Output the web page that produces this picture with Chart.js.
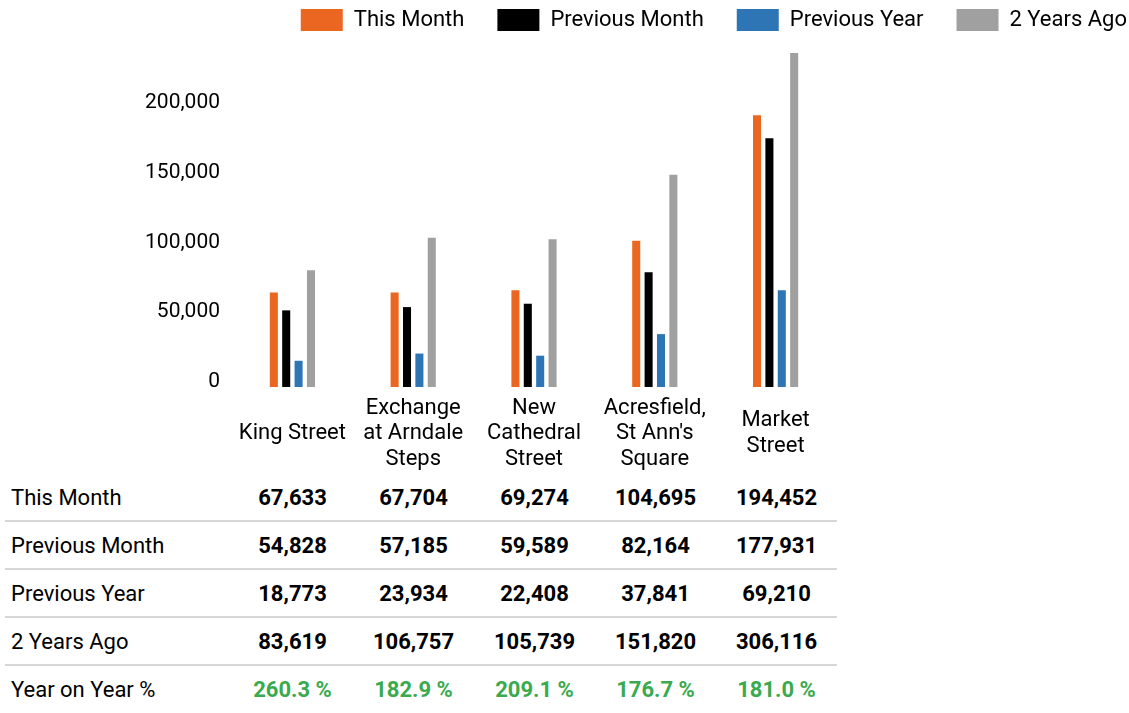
<!DOCTYPE html>
<html>
<head>
<meta charset="utf-8">
<script src="https://cdn.jsdelivr.net/npm/chart.js@4.4.1/dist/chart.umd.min.js"></script>
<style>
    body { margin: 0; background: #fff; font-family: Roboto, sans-serif; }
    #wrap { position: relative; width: 1129px; height: 474px; }
    table { border-collapse: collapse; margin-left: 5px; font-size: 22px; color: #000; }
    td { height: 46px; padding: 0; text-align: center; font-weight: bold; width: 121px; }
    td.nome { text-align: left; font-weight: normal; width: 221px; padding-left: 6px; }
    tr { border-bottom: 2px solid #d6d6d6; }
    tr:last-child { border-bottom: none; }
    tr.yoy td.v { color: #3aaa4e; }
</style>
</head>
<body>
<div id="wrap"><canvas id="grafico"></canvas></div>
<table id="tabela"></table>
<script>
const categorias = ['King Street', ['Exchange', 'at Arndale', 'Steps'], ['New', 'Cathedral', 'Street'], ['Acresfield,', "St Ann's", 'Square'], ['Market', 'Street']];
const nomesSeries = ['This Month', 'Previous Month', 'Previous Year', '2 Years Ago'];
const thisMonth = [67633, 67704, 69274, 104695, 194452];
const previousMonth = [54828, 57185, 59589, 82164, 177931];
const previousYear = [18773, 23934, 22408, 37841, 69210];
const twoYearsAgo = [83619, 106757, 105739, 151820, 306116];
const yearOnYear = [260.3, 182.9, 209.1, 176.7, 181.0];
const yTicks = [0, 50000, 100000, 150000, 200000];

const cores = ['#eb6620', '#000000', '#2e75b6', '#a0a0a0'];
const valores = [thisMonth, previousMonth, previousYear, twoYearsAgo];

// tabela de dados embaixo do grafico
const tabela = document.getElementById('tabela');
valores.forEach((serie, i) => {
    const tr = document.createElement('tr');
    tr.innerHTML = `<td class="nome">${nomesSeries[i]}</td>` +
        serie.map(v => `<td>${v.toLocaleString('en-US')}</td>`).join('');
    tabela.appendChild(tr);
});
const trYoy = document.createElement('tr');
trYoy.className = 'yoy';
trYoy.innerHTML = '<td class="nome">Year on Year %</td>' +
    yearOnYear.map(v => `<td class="v">${v.toFixed(1)} %</td>`).join('');
tabela.appendChild(trYoy);

const ctx = document.getElementById('grafico').getContext('2d');
window.grafico = new Chart(ctx, {
    type: 'bar',
    data: {
        labels: categorias,
        datasets: valores.map((serie, i) => ({
            label: nomesSeries[i],
            data: serie,
            backgroundColor: cores[i],
            categoryPercentage: 0.41,
            barPercentage: 0.65
        }))
    },
    options: {
        responsive: true,
        maintainAspectRatio: false,
        animation: false,
        layout: { padding: { top: -24, right: -31, left: 0, bottom: 0 } },
        plugins: {
            legend: {
                position: 'top',
                align: 'end',
                labels: { boxWidth: 42, boxHeight: 22, padding: 33, color: '#000', font: { family: 'Roboto', size: 22 } }
            },
            title: { display: true, text: '', weight: 500, padding: 0, font: { size: 12, lineHeight: 1 } },
            tooltip: { enabled: false }
        },
        scales: {
            x: {
                grid: { display: false },
                border: { display: false },
                ticks: {
                    color: '#000',
                    font: { family: 'Roboto', size: 22, lineHeight: 1.18 },
                    maxRotation: 0,
                    autoSkip: false,
                    padding: 13,
                    crossAlign: 'center'
                },
                afterFit: s => { s.height = 87; }
            },
            y: {
                min: 0,
                max: 239000,
                grid: { display: false },
                border: { display: false },
                ticks: {
                    color: '#000',
                    font: { family: 'Roboto', size: 21 },
                    padding: 4,
                    labelOffset: -5,
                    callback: v => v.toLocaleString('en-US')
                },
                afterBuildTicks: s => { s.ticks = yTicks.map(v => ({ value: v })); },
                afterFit: s => { s.width = 232; }
            },
            y2: {
                type: 'linear',
                position: 'right',
                grid: { display: false },
                border: { display: false },
                ticks: { display: false },
                afterFit: s => { s.width = 324; }
            }
        }
    }
});
</script>
</body>
</html>
